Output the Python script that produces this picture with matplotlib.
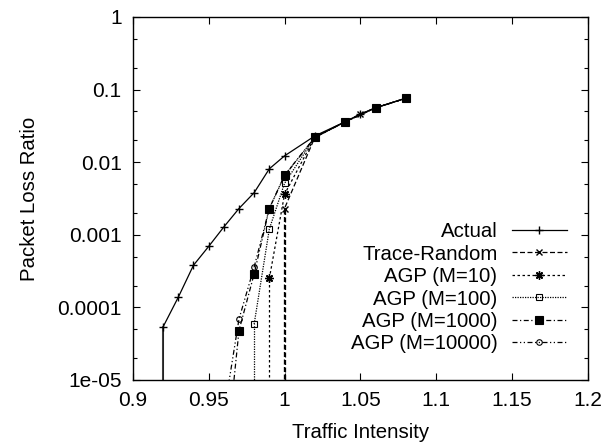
import numpy as np
import matplotlib
matplotlib.use('Agg')
import matplotlib.pyplot as plt
from matplotlib.ticker import LogLocator, FuncFormatter, MultipleLocator, NullFormatter

plt.rcParams['font.family'] = ['Liberation Sans', 'DejaVu Sans']

# traffic intensity / packet loss ratio
# (0 means the curve drops below the axis)
x_actual = [0.91, 0.92, 0.93, 0.94, 0.95, 0.96, 0.97, 0.98, 0.99, 1.00, 1.02, 1.04, 1.05, 1.06, 1.08]
y_actual = [0, 5.4e-5, 1.38e-4, 3.8e-4, 6.9e-4, 1.28e-3, 2.3e-3, 3.8e-3, 8.1e-3, 0.0122, 0.023, 0.036, 0.046, 0.056, 0.076]

x_trace = [0.99, 1.00, 1.02, 1.04, 1.05, 1.06, 1.08]
y_trace = [0, 2.3e-3, 0.022, 0.036, 0.046, 0.056, 0.076]

x_agp = [0.96, 0.97, 0.98, 0.99, 1.00, 1.02, 1.04, 1.06, 1.08]
y_m10 = [0, 0, 0, 2.5e-4, 3.6e-3, 0.022, 0.036, 0.056, 0.076]
y_m100 = [0, 0, 5.9e-5, 1.2e-3, 5.1e-3, 0.022, 0.036, 0.056, 0.076]
y_m1000 = [4.2e-7, 4.8e-5, 2.9e-4, 2.3e-3, 6.6e-3, 0.022, 0.036, 0.056, 0.076]
y_m10000 = [3.4e-6, 6.9e-5, 3.6e-4, 2.3e-3, 6.5e-3, 0.022, 0.036, 0.056, 0.076]

fig = plt.figure(figsize=(6.09, 4.46), dpi=100)
ax = fig.add_axes([0.218, 0.148, 0.7475, 0.814])

lw = 0.9
ax.plot(x_actual, y_actual, color='k', lw=lw, ls='-', marker='+', ms=6, mew=1.0, label='Actual')
ax.plot(x_trace, y_trace, color='k', lw=lw, ls=(0, (4, 2)), marker='x', ms=5, mew=1.0, label='Trace-Random')
ax.plot(x_agp[3:], y_m10[3:], color='k', lw=lw, ls=(0, (2, 2)), marker=(8, 2, 0), ms=6, mew=1.0, label='AGP (M=10)')
ax.plot(x_agp[2:], y_m100[2:], color='k', lw=lw, ls=(0, (1, 1)), marker='s', ms=5, mew=0.8, mfc='none', label='AGP (M=100)')
ax.plot(x_agp, y_m1000, color='k', lw=lw, ls=(0, (4, 2, 1, 2)), marker='s', ms=6, mew=0.8, mfc='k', label='AGP (M=1000)')
ax.plot(x_agp, y_m10000, color='k', lw=lw, ls=(0, (4, 2, 1, 2, 1, 2)), marker='o', ms=4, mew=0.8, mfc='none', label='AGP (M=10000)')

# vertical drops where the loss goes to zero
ax.plot([x_actual[1], x_actual[1]], [1e-6, y_actual[1]], color='0.5', lw=1.5, zorder=1)
ax.plot([x_trace[1], x_trace[1]], [1e-6, y_trace[1]], color='k', lw=lw, ls=(0, (4, 2)))
ax.plot([x_agp[3], x_agp[3]], [1e-6, y_m10[3]], color='k', lw=lw, ls=(0, (2, 2)))
ax.plot([x_agp[2], x_agp[2]], [1e-6, y_m100[2]], color='k', lw=lw, ls=(0, (1, 1)))

ax.set_yscale('log')
ax.set_xlim(0.9, 1.2)
ax.set_ylim(1e-5, 1)

ax.xaxis.set_major_locator(MultipleLocator(0.05))
ax.xaxis.set_major_formatter(FuncFormatter(lambda v, p: '%g' % round(v, 2)))
ax.yaxis.set_major_locator(LogLocator(base=10, numticks=10))
ax.yaxis.set_minor_locator(LogLocator(base=10, subs=[2, 5], numticks=20))
ax.yaxis.set_minor_formatter(NullFormatter())
ax.yaxis.set_major_formatter(FuncFormatter(lambda v, p: '%g' % v))

ax.tick_params(which='both', direction='in', top=True, right=True, labelsize=15, colors='k')
ax.tick_params(which='major', length=5, width=0.8, pad=8)
ax.tick_params(which='minor', length=3, width=0.8)
for s in ax.spines.values():
    s.set_linewidth(1.0)

ax.set_xlabel('Traffic Intensity', fontsize=14.7, labelpad=9)
ax.set_ylabel('Packet Loss Ratio', fontsize=14.7, labelpad=13)

leg = ax.legend(loc='lower right', bbox_to_anchor=(0.976, 0.045), frameon=False, markerfirst=False,
                fontsize=14.7, handlelength=2.7, handletextpad=0.7, labelspacing=0.17, borderpad=0)
for t in leg.get_texts():
    t.set_ha('right')

fig.savefig('out.png', dpi=100)
